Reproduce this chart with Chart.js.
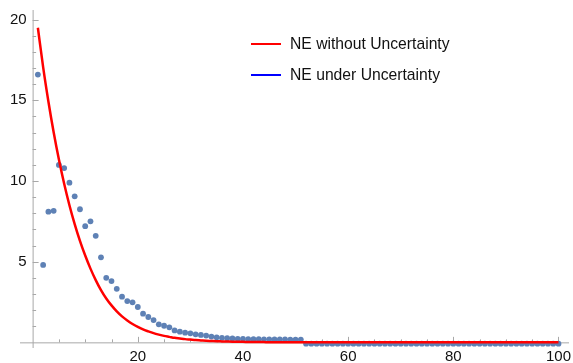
<!DOCTYPE html>
<html>
<head>
<meta charset="utf-8">
<script src="https://cdn.jsdelivr.net/npm/chart.js@4/dist/chart.umd.min.js"></script>
<style>
  body { margin: 0; background: #fff; }
  #wrap { position: relative; width: 573px; height: 363px; }
  .legend-row { position: absolute; left: 251px; height: 20px; display: flex; align-items: center;
    font-family: 'Liberation Sans', Arial, sans-serif; font-size: 15.7px; color: #111; }
  .legend-row .swatch { width: 30px; height: 2.5px; margin-right: 9px; }
</style>
</head>
<body>
<div id="wrap">
  <canvas id="chart" width="573" height="363"></canvas>
  <div class="legend-row" style="top:34px"><span class="swatch" style="background:#ff0000"></span>NE without Uncertainty</div>
  <div class="legend-row" style="top:65px"><span class="swatch" style="background:#0000ff"></span>NE under Uncertainty</div>
</div>
<script>
// periodes 1..100
const periods = Array.from({ length: 100 }, (_, i) => i + 1);

// courbe rouge (sans incertitude)
const withoutUncertainty = [
  19.5, 17.06, 14.93, 13.02, 11.33, 9.83, 8.5, 7.33, 6.29, 5.38,
  4.57, 3.86, 3.24, 2.72, 2.29, 1.92, 1.61, 1.36, 1.14, 0.96,
  0.8, 0.68, 0.57, 0.48, 0.4, 0.34, 0.28, 0.24, 0.2, 0.17,
  0.14, 0.12, 0.1, 0.085, 0.07, 0.06, 0.05, 0.04, 0.035, 0.03,
  0.025, 0.02, 0.02, 0.015, 0.01, 0.01, 0.01, 0.005, 0.005, 0.005,
  0, 0, 0, 0, 0, 0, 0, 0, 0, 0,
  0, 0, 0, 0, 0, 0, 0, 0, 0, 0,
  0, 0, 0, 0, 0, 0, 0, 0, 0, 0,
  0, 0, 0, 0, 0, 0, 0, 0, 0, 0,
  0, 0, 0, 0, 0, 0, 0, 0, 0, 0
];

// points bleus (sous incertitude)
const underUncertainty = [
  16.6, 4.8, 8.1, 8.15, 11.0, 10.8, 9.9, 9.05, 8.25, 7.2,
  7.5, 6.6, 5.27, 4.0, 3.8, 3.32, 2.83, 2.56, 2.48, 2.19,
  1.78, 1.57, 1.38, 1.12, 1.03, 0.93, 0.74, 0.66, 0.6, 0.56,
  0.5, 0.46, 0.42, 0.36, 0.31, 0.28, 0.26, 0.24, 0.22, 0.21,
  0.2, 0.2, 0.2, 0.19, 0.19, 0.18, 0.18, 0.18, 0.17, 0.17,
  0.17, -0.08, -0.08, -0.08, -0.08, -0.08, -0.08, -0.08, -0.08, -0.08,
  -0.08, -0.08, -0.08, -0.08, -0.08, -0.08, -0.08, -0.08, -0.08, -0.08,
  -0.08, -0.08, -0.08, -0.08, -0.08, -0.08, -0.08, -0.08, -0.08, -0.08,
  -0.08, -0.08, -0.08, -0.08, -0.08, -0.08, -0.08, -0.08, -0.08, -0.08,
  -0.08, -0.08, -0.08, -0.08, -0.08, -0.08, -0.08, -0.08, -0.08, -0.08
];

const xMajorTicks = [20, 40, 60, 80, 100];
const yMajorTicks = [5, 10, 15, 20];

const AXIS_COLOR = '#a8a8a8';
const LABEL_FONT = "15px 'Liberation Sans', Arial, sans-serif";

// axes style Mathematica, croises a l'origine
const axesPlugin = {
  id: 'mmaAxes',
  beforeDatasetsDraw(chart) {
    const { ctx, chartArea, scales } = chart;
    const xs = scales.x, ys = scales.y;
    const x0 = xs.getPixelForValue(0);
    const y0 = ys.getPixelForValue(0);
    ctx.save();
    ctx.strokeStyle = AXIS_COLOR;
    ctx.lineWidth = 1;
    ctx.beginPath();
    ctx.moveTo(chartArea.left, y0 + 0.5);
    ctx.lineTo(chartArea.right, y0 + 0.5);
    ctx.moveTo(x0 + 0.5, chartArea.top);
    ctx.lineTo(x0 + 0.5, chartArea.bottom);
    // x ticks, mineurs tous les 5
    for (let v = 5; v <= 100; v += 5) {
      const px = Math.round(xs.getPixelForValue(v)) + 0.5;
      const len = xMajorTicks.includes(v) ? 5.5 : 3;
      ctx.moveTo(px, y0);
      ctx.lineTo(px, y0 - len);
    }
    // y ticks, mineurs tous les 1
    for (let v = 1; v <= 20; v += 1) {
      const py = Math.round(ys.getPixelForValue(v)) + 0.5;
      const len = yMajorTicks.includes(v) ? 6 : 3.5;
      ctx.moveTo(x0, py);
      ctx.lineTo(x0 + len, py);
    }
    ctx.stroke();

    ctx.fillStyle = '#111';
    ctx.font = LABEL_FONT;
    ctx.textAlign = 'center';
    ctx.textBaseline = 'top';
    xMajorTicks.forEach(v => ctx.fillText(String(v), xs.getPixelForValue(v), y0 + 7));
    ctx.textAlign = 'right';
    ctx.textBaseline = 'middle';
    yMajorTicks.forEach(v => ctx.fillText(String(v), x0 - 6, ys.getPixelForValue(v)));
    ctx.restore();
  }
};

new Chart(document.getElementById('chart').getContext('2d'), {
  type: 'line',
  data: {
    datasets: [
      {
        label: 'NE without Uncertainty',
        data: periods.map((p, i) => ({ x: p, y: withoutUncertainty[i] })),
        borderColor: '#ff0000',
        borderWidth: 2.5,
        pointRadius: 0,
        fill: false,
        cubicInterpolationMode: 'monotone',
        clip: false
      },
      {
        label: 'NE under Uncertainty',
        data: periods.map((p, i) => ({ x: p, y: underUncertainty[i] })),
        showLine: false,
        pointRadius: 2.9,
        pointBackgroundColor: '#5e81b5',
        pointBorderWidth: 0,
        borderColor: '#5e81b5',
        clip: false
      }
    ]
  },
  options: {
    responsive: false,
    animation: false,
    layout: { padding: { left: 20, right: 2.5, top: 10, bottom: 15 } },
    plugins: { legend: { display: false }, tooltip: { enabled: false } },
    scales: {
      x: { type: 'linear', min: -2.4, max: 102, display: false },
      y: { type: 'linear', min: -0.35, max: 20.6, display: false }
    }
  },
  plugins: [axesPlugin]
});
</script>
</body>
</html>
